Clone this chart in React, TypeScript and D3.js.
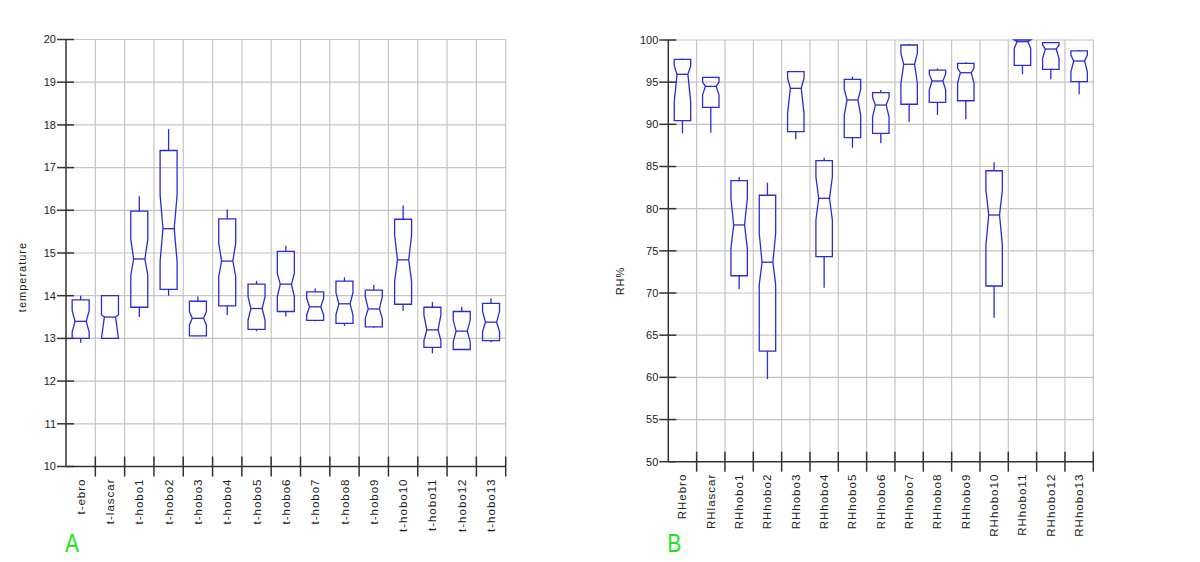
import { useEffect, useRef } from 'react';
import * as d3 from 'd3';

const WIDTH = 1200;
const HEIGHT = 562;
const BOX_COLOR = '#2b2bd9';
const GRID_COLOR = '#c4c4c4';
const AXIS_COLOR = '#333333';
const FONT = '"Liberation Sans", Arial, sans-serif';

// Panel A: temperature
const tempNames = ['t-ebro', 't-lascar', 't-hobo1', 't-hobo2', 't-hobo3', 't-hobo4', 't-hobo5', 't-hobo6', 't-hobo7', 't-hobo8', 't-hobo9', 't-hobo10', 't-hobo11', 't-hobo12', 't-hobo13'];
const tempWhiskerLo = [12.9, 13.0, 13.5, 14.0, 13.05, 13.55, 13.17, 13.51, 13.4, 13.29, 13.25, 13.64, 12.65, 12.73, 12.91];
const tempQ1 = [13.0, 13.0, 13.73, 14.15, 13.06, 13.76, 13.21, 13.63, 13.42, 13.35, 13.27, 13.8, 12.79, 12.74, 12.95];
const tempNotchLo = [13.15, 12.9, 14.48, 14.8, 13.31, 14.45, 13.43, 13.98, 13.55, 13.55, 13.47, 14.33, 12.95, 12.92, 13.16];
const tempMedian = [13.4, 13.5, 14.86, 15.57, 13.47, 14.81, 13.7, 14.27, 13.74, 13.81, 13.69, 14.84, 13.2, 13.17, 13.38];
const tempNotchHi = [13.65, 13.55, 15.32, 16.36, 13.63, 15.23, 13.98, 14.52, 13.94, 14.07, 13.98, 15.42, 13.55, 13.43, 13.63];
const tempQ3 = [13.9, 14.0, 15.98, 17.4, 13.87, 15.8, 14.27, 15.04, 14.09, 14.34, 14.13, 15.79, 13.73, 13.63, 13.82];
const tempWhiskerHi = [14.0, 14.0, 16.33, 17.9, 13.98, 16.02, 14.35, 15.17, 14.17, 14.43, 14.25, 16.11, 13.85, 13.74, 13.94];
const tempTicks = [10, 11, 12, 13, 14, 15, 16, 17, 18, 19, 20];

// Panel B: relative humidity
const rhNames = ['RHebro', 'RHlascar', 'RHhobo1', 'RHhobo2', 'RHhobo3', 'RHhobo4', 'RHhobo5', 'RHhobo6', 'RHhobo7', 'RHhobo8', 'RHhobo9', 'RHhobo10', 'RHhobo11', 'RHhobo12', 'RHhobo13'];
const rhWhiskerLo = [88.94, 89.0, 70.44, 59.8, 88.23, 70.63, 87.23, 87.75, 90.28, 91.11, 90.6, 67.07, 95.95, 95.34, 93.56];
const rhQ1 = [90.43, 92.0, 72.05, 63.12, 89.13, 74.31, 88.42, 88.94, 92.38, 92.61, 92.8, 70.83, 97.0, 96.52, 95.06];
const rhNotchLo = [92.69, 93.5, 75.3, 71.0, 91.3, 78.66, 91.1, 90.9, 94.87, 94.07, 94.87, 75.69, 99.0, 97.83, 96.24];
const rhMedian = [95.93, 94.5, 78.07, 73.65, 94.27, 81.23, 92.89, 92.29, 97.12, 95.14, 96.12, 79.25, 99.8, 98.93, 97.51];
const rhNotchHi = [96.92, 95.0, 81.23, 77.08, 95.46, 83.79, 94.15, 93.2, 98.42, 95.97, 96.64, 82.21, 100, 99.41, 98.22];
const rhQ3 = [97.71, 95.57, 83.32, 81.59, 96.24, 85.69, 95.34, 93.76, 99.41, 96.44, 97.24, 84.5, 100, 99.68, 98.7];
const rhWhiskerHi = [97.79, 95.6, 83.76, 83.08, 96.36, 86.05, 95.65, 94.07, 99.53, 96.64, 97.35, 85.5, 100, 99.76, 98.81];
const rhTicks = [50, 55, 60, 65, 70, 75, 80, 85, 90, 95, 100];

type Panel = {
  names: string[];
  wLo: number[];
  q1: number[];
  nLo: number[];
  med: number[];
  nHi: number[];
  q3: number[];
  wHi: number[];
  ticks: number[];
  x0: number;
  x1: number;
  yTop: number;
  yBot: number;
  title: string;
  titleX: number;
  titleY: number;
  letter: string;
};

const panels: Panel[] = [
  {
    names: tempNames, wLo: tempWhiskerLo, q1: tempQ1, nLo: tempNotchLo, med: tempMedian,
    nHi: tempNotchHi, q3: tempQ3, wHi: tempWhiskerHi, ticks: tempTicks,
    x0: 66, x1: 505.7, yTop: 39.5, yBot: 466.5,
    title: 'temperature', titleX: 22, titleY: 277, letter: 'A',
  },
  {
    names: rhNames, wLo: rhWhiskerLo, q1: rhQ1, nLo: rhNotchLo, med: rhMedian,
    nHi: rhNotchHi, q3: rhQ3, wHi: rhWhiskerHi, ticks: rhTicks,
    x0: 668.3, x1: 1093.3, yTop: 40, yBot: 461.7,
    title: 'RH%', titleX: 620, titleY: 281, letter: 'B',
  },
];

export default function App() {
  const svgRef = useRef<SVGSVGElement>(null);

  useEffect(() => {
    if (!svgRef.current) return;
    const svg = d3.select(svgRef.current);
    svg.selectAll('*').remove();

    panels.forEach((p) => {
      const g = svg.append('g');
      const lo = p.ticks[0];
      const hi = p.ticks[p.ticks.length - 1];
      const y = d3.scaleLinear().domain([lo, hi]).range([p.yBot, p.yTop]);
      const x = d3.scaleBand().domain(p.names).range([p.x0, p.x1]).padding(0);
      const bw = x.bandwidth();
      const cy = (v: number) => y(Math.max(lo, Math.min(hi, v)));

      // grid horizontal
      g.selectAll('.hgrid')
        .data(p.ticks.slice(1))
        .join('line')
        .attr('x1', p.x0).attr('x2', p.x1)
        .attr('y1', (d) => y(d)).attr('y2', (d) => y(d))
        .attr('stroke', GRID_COLOR).attr('stroke-width', 1.2);

      // grid vertical at band boundaries
      const bounds = p.names.map((n) => (x(n) as number) + bw);
      g.selectAll('.vgrid')
        .data(bounds)
        .join('line')
        .attr('x1', (d) => d).attr('x2', (d) => d)
        .attr('y1', p.yTop).attr('y2', p.yBot)
        .attr('stroke', GRID_COLOR).attr('stroke-width', 1.2);

      // axes
      g.append('line')
        .attr('x1', p.x0).attr('x2', p.x0).attr('y1', p.yTop).attr('y2', p.yBot)
        .attr('stroke', AXIS_COLOR).attr('stroke-width', 1.5);
      g.append('line')
        .attr('x1', p.x0).attr('x2', p.x1).attr('y1', p.yBot).attr('y2', p.yBot)
        .attr('stroke', AXIS_COLOR).attr('stroke-width', 1.5);

      g.selectAll('.ytick')
        .data(p.ticks)
        .join('line')
        .attr('x1', p.x0 - 9).attr('x2', p.x0 + 8)
        .attr('y1', (d) => y(d)).attr('y2', (d) => y(d))
        .attr('stroke', AXIS_COLOR).attr('stroke-width', 1.5);

      g.selectAll('.ylabel')
        .data(p.ticks)
        .join('text')
        .attr('x', p.x0 - 10)
        .attr('y', (d) => y(d))
        .attr('dy', '0.35em')
        .attr('text-anchor', 'end')
        .style('font-family', FONT)
        .style('font-size', '11px')
        .style('fill', '#222')
        .text((d) => String(d));

      g.selectAll('.xtick')
        .data(bounds)
        .join('line')
        .attr('x1', (d) => d).attr('x2', (d) => d)
        .attr('y1', p.yBot - 10).attr('y2', p.yBot + 10)
        .attr('stroke', AXIS_COLOR).attr('stroke-width', 1.5);

      g.selectAll('.xlabel')
        .data(p.names)
        .join('text')
        .attr('transform', (d) => `translate(${(x(d) as number) + bw / 2},${p.yBot + 12}) rotate(-90)`)
        .attr('dy', '0.35em')
        .attr('text-anchor', 'end')
        .style('font-family', FONT)
        .style('font-size', '11.5px')
        .style('letter-spacing', '1px')
        .style('fill', '#222')
        .text((d) => d);

      // axis title
      g.append('text')
        .attr('transform', `translate(${p.titleX},${p.titleY}) rotate(-90)`)
        .attr('dy', '0.35em')
        .attr('text-anchor', 'middle')
        .style('font-family', FONT)
        .style('font-size', '11px')
        .style('letter-spacing', '1px')
        .style('fill', '#222')
        .text(p.title);

      // panel letter
      g.append('text')
        .attr('transform', `translate(${p.x0 - 1},552) scale(0.85,1)`)
        .style('font-family', FONT)
        .style('font-size', '25px')
        .style('fill', '#1ee61e')
        .text(p.letter);

      // boxes
      const w = bw * 0.58;
      const ind = w * 0.17;
      p.names.forEach((n, i) => {
        const cx = (x(n) as number) + bw / 2;
        const L = cx - w / 2;
        const R = cx + w / 2;
        const yq3 = cy(p.q3[i]);
        const yq1 = cy(p.q1[i]);
        const ynh = cy(Math.min(p.nHi[i], p.q3[i]));
        const ynl = cy(Math.max(p.nLo[i], p.q1[i]));
        const ym = cy(p.med[i]);

        g.append('line')
          .attr('x1', cx).attr('x2', cx)
          .attr('y1', yq3).attr('y2', cy(p.wHi[i]))
          .attr('stroke', BOX_COLOR).attr('stroke-width', 1.3);
        g.append('line')
          .attr('x1', cx).attr('x2', cx)
          .attr('y1', yq1).attr('y2', cy(p.wLo[i]))
          .attr('stroke', BOX_COLOR).attr('stroke-width', 1.3);

        const pts: [number, number][] = [
          [L, yq3], [L, ynh], [L + ind, ym], [L, ynl], [L, yq1],
          [R, yq1], [R, ynl], [R - ind, ym], [R, ynh], [R, yq3],
        ];
        g.append('path')
          .attr('d', d3.line()(pts) + 'Z')
          .attr('fill', 'none')
          .attr('stroke', BOX_COLOR)
          .attr('stroke-width', 1.3);
        g.append('line')
          .attr('x1', L + ind).attr('x2', R - ind)
          .attr('y1', ym).attr('y2', ym)
          .attr('stroke', BOX_COLOR).attr('stroke-width', 1.3);
      });
    });
  }, []);

  return (
    <svg
      ref={svgRef}
      width={WIDTH}
      height={HEIGHT}
      style={{ position: 'absolute', left: 0, top: 0, background: '#fff', display: 'block' }}
    />
  );
}
